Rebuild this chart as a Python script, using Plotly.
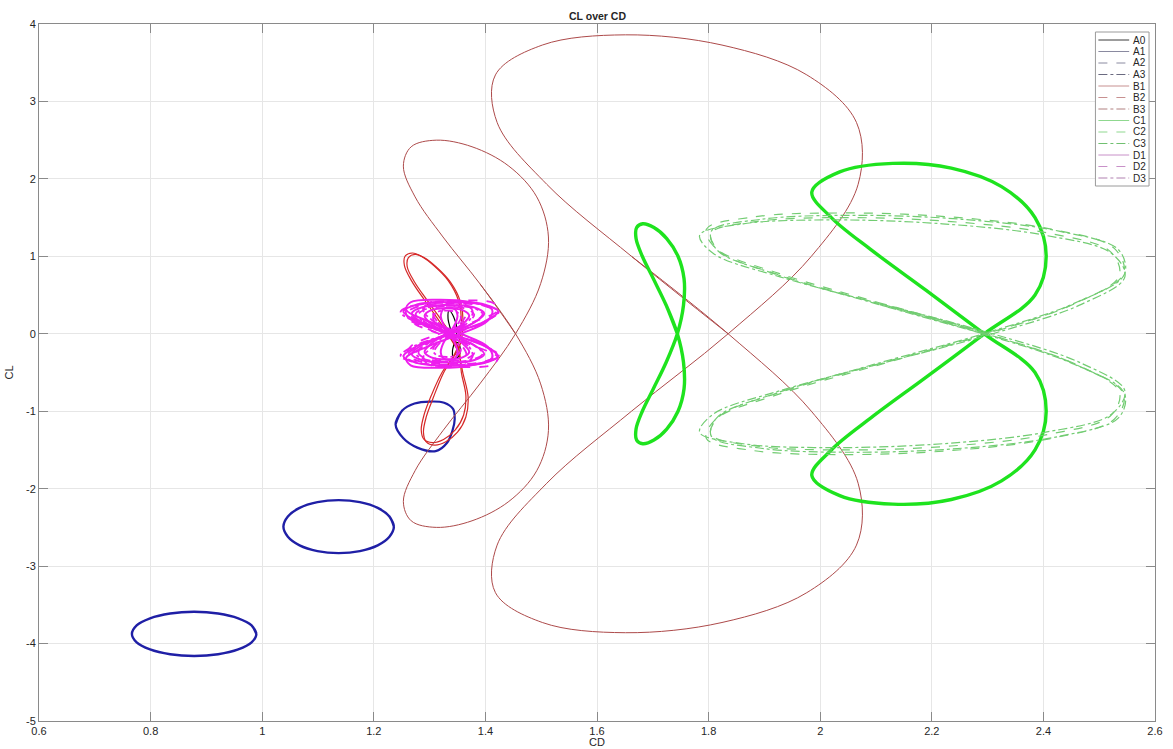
import plotly.graph_objects as go

# ---------------- data: CD (x) / CL (y) traces, each inner list is one closed loop ----------------
A0_CD = [[1.345, 1.338, 1.333, 1.335, 1.343, 1.349, 1.345, 1.341, 1.343, 1.351, 1.355, 1.351]]
A0_CL = [[-0.10, 0.05, 0.20, 0.30, 0.22, 0.06, -0.10, -0.22, -0.32, -0.30, -0.20, -0.12]]

A1_CD = [[0.9895, 0.981, 0.957, 0.921, 0.878, 0.835, 0.799, 0.775, 0.7665, 0.775, 0.799, 0.835, 0.878, 0.921, 0.957, 0.981]]
A1_CL = [[-3.875, -3.766, -3.674, -3.612, -3.59, -3.612, -3.674, -3.766, -3.875, -3.984, -4.076, -4.138, -4.16, -4.138, -4.076, -3.984]]

A2_CD = [[1.236, 1.228, 1.207, 1.175, 1.137, 1.099, 1.067, 1.046, 1.038, 1.046, 1.067, 1.099, 1.137, 1.175, 1.207, 1.228]]
A2_CL = [[-2.49, -2.359, -2.248, -2.174, -2.148, -2.174, -2.248, -2.359, -2.49, -2.621, -2.732, -2.806, -2.832, -2.806, -2.732, -2.621]]

A3_CD = [[1.239, 1.251, 1.273, 1.301, 1.326, 1.342, 1.345, 1.341, 1.331, 1.311, 1.278, 1.253]]
A3_CL = [[-1.17, -0.99, -0.90, -0.875, -0.89, -0.97, -1.10, -1.25, -1.41, -1.515, -1.47, -1.35]]

B1_CD = [
    [1.349, 1.321, 1.292, 1.268, 1.255, 1.256, 1.269, 1.285, 1.308, 1.334, 1.352, 1.357,
     1.349, 1.324, 1.307, 1.294, 1.289, 1.294, 1.309, 1.329, 1.350, 1.365, 1.369, 1.360],
    [1.352, 1.326, 1.297, 1.273, 1.260, 1.262, 1.274, 1.290, 1.312, 1.337, 1.355, 1.360,
     1.352, 1.322, 1.303, 1.290, 1.285, 1.290, 1.305, 1.325, 1.346, 1.361, 1.365, 1.357],
]
B1_CL = [
    [-0.197, 0.124, 0.423, 0.680, 0.877, 1.001, 1.043, 1.001, 0.877, 0.680, 0.423, 0.124,
     -0.197, -0.518, -0.817, -1.074, -1.271, -1.395, -1.437, -1.395, -1.271, -1.074, -0.817, -0.518],
    [-0.19, 0.124, 0.418, 0.669, 0.862, 0.984, 1.025, 0.984, 0.862, 0.669, 0.418, 0.124,
     -0.19, -0.504, -0.798, -1.049, -1.242, -1.364, -1.405, -1.364, -1.242, -1.049, -0.798, -0.504],
]

B2_CD = [[1.454, 1.390, 1.324, 1.274, 1.253, 1.267, 1.312, 1.376, 1.442, 1.492, 1.513, 1.499,
          1.454, 1.390, 1.324, 1.274, 1.253, 1.267, 1.312, 1.376, 1.442, 1.492, 1.513, 1.499]]
B2_CL = [[0, 0.647, 1.25, 1.768, 2.165, 2.415, 2.50, 2.415, 2.165, 1.768, 1.25, 0.647,
          0, -0.647, -1.25, -1.768, -2.165, -2.415, -2.50, -2.415, -2.165, -1.768, -1.25, -0.647]]

B3_CD = [[1.835, 1.662, 1.510, 1.421, 1.418, 1.502, 1.651, 1.824, 1.976, 2.065, 2.068, 1.984,
          1.835, 1.662, 1.510, 1.421, 1.418, 1.502, 1.651, 1.824, 1.976, 2.065, 2.068, 1.984]]
B3_CL = [[0, 0.999, 1.93, 2.729, 3.343, 3.728, 3.86, 3.728, 3.343, 2.729, 1.93, 0.999,
          0, -0.999, -1.93, -2.729, -3.343, -3.728, -3.86, -3.728, -3.343, -2.729, -1.93, -0.999]]

# C1: narrow figure-eight and wide butterfly
C1_CD = [
    [1.744, 1.724, 1.701, 1.681, 1.670, 1.671, 1.682, 1.702, 1.725, 1.745, 1.756, 1.755,
     1.744, 1.724, 1.701, 1.681, 1.670, 1.671, 1.682, 1.702, 1.725, 1.745, 1.756, 1.755],
    [2.294, 2.190, 2.092, 2.020, 1.985, 2.035, 2.130, 2.235, 2.325, 2.385, 2.405, 2.385,
     2.294, 2.190, 2.092, 2.020, 1.985, 2.035, 2.130, 2.235, 2.325, 2.385, 2.405, 2.385],
]
C1_CL = [
    [0, 0.368, 0.71, 1.004, 1.230, 1.372, 1.42, 1.372, 1.230, 1.004, 0.71, 0.368,
     0, -0.368, -0.71, -1.004, -1.230, -1.372, -1.42, -1.372, -1.230, -1.004, -0.71, -0.368],
    [0, 0.56, 1.08, 1.50, 1.83, 2.09, 2.20, 2.14, 1.90, 1.50, 1.00, 0.50,
     0, -0.56, -1.08, -1.50, -1.83, -2.09, -2.20, -2.14, -1.90, -1.50, -1.00, -0.50],
]

C2_CD = [
    [2.300, 2.104, 1.926, 1.813, 1.796, 1.879, 2.040, 2.236, 2.414, 2.527, 2.544, 2.461,
     2.300, 2.104, 1.926, 1.813, 1.796, 1.879, 2.040, 2.236, 2.414, 2.527, 2.544, 2.461],
    [2.297, 2.105, 1.931, 1.820, 1.804, 1.885, 2.043, 2.235, 2.409, 2.520, 2.536, 2.455,
     2.297, 2.105, 1.931, 1.820, 1.804, 1.885, 2.043, 2.235, 2.409, 2.520, 2.536, 2.455],
]
C2_CL = [
    [0, 0.404, 0.78, 1.103, 1.351, 1.507, 1.56, 1.507, 1.351, 1.103, 0.78, 0.404,
     0, -0.404, -0.78, -1.103, -1.351, -1.507, -1.56, -1.507, -1.351, -1.103, -0.78, -0.404],
    [0, 0.388, 0.75, 1.061, 1.299, 1.449, 1.50, 1.449, 1.299, 1.061, 0.75, 0.388,
     0, -0.388, -0.75, -1.061, -1.299, -1.449, -1.50, -1.449, -1.299, -1.061, -0.75, -0.388],
]

C3_CD = [
    [2.292, 2.096, 1.922, 1.815, 1.805, 1.894, 2.058, 2.254, 2.428, 2.535, 2.545, 2.456,
     2.292, 2.096, 1.922, 1.815, 1.805, 1.894, 2.058, 2.254, 2.428, 2.535, 2.545, 2.456],
    [2.309, 2.111, 1.928, 1.808, 1.784, 1.862, 2.021, 2.219, 2.402, 2.522, 2.546, 2.468,
     2.309, 2.111, 1.928, 1.808, 1.784, 1.862, 2.021, 2.219, 2.402, 2.522, 2.546, 2.468],
]
C3_CL = [
    [0, 0.396, 0.765, 1.082, 1.325, 1.478, 1.53, 1.478, 1.325, 1.082, 0.765, 0.396,
     0, -0.396, -0.765, -1.082, -1.325, -1.478, -1.53, -1.478, -1.325, -1.082, -0.765, -0.396],
    [0, 0.380, 0.735, 1.039, 1.273, 1.420, 1.47, 1.420, 1.273, 1.039, 0.735, 0.380,
     0, -0.380, -0.735, -1.039, -1.273, -1.420, -1.47, -1.420, -1.273, -1.039, -0.735, -0.380],
]

D1_CD = [
    [1.338, 1.278, 1.253, 1.278, 1.338, 1.398, 1.423, 1.398, 1.338, 1.278, 1.253, 1.278, 1.338, 1.398, 1.423, 1.398],
    [1.333, 1.287, 1.268, 1.287, 1.333, 1.379, 1.398, 1.379, 1.333, 1.287, 1.268, 1.287, 1.333, 1.379, 1.398, 1.379],
    [1.331, 1.303, 1.291, 1.303, 1.331, 1.359, 1.371, 1.359, 1.331, 1.303, 1.291, 1.303, 1.331, 1.359, 1.371, 1.359],
    [1.356, 1.295, 1.258, 1.266, 1.314, 1.375, 1.412, 1.404, 1.356, 1.295, 1.258, 1.266, 1.314, 1.375, 1.412, 1.404],
    [1.335, 1.324, 1.320, 1.324, 1.335, 1.346, 1.350, 1.346, 1.335, 1.324, 1.320, 1.324, 1.335, 1.346, 1.350, 1.346],
]
D1_CL = [
    [0, 0.157, 0.290, 0.379, 0.41, 0.379, 0.290, 0.157, 0, -0.157, -0.290, -0.379, -0.41, -0.379, -0.290, -0.157],
    [0, 0.142, 0.262, 0.342, 0.37, 0.342, 0.262, 0.142, 0, -0.142, -0.262, -0.342, -0.37, -0.342, -0.262, -0.142],
    [0, 0.126, 0.233, 0.305, 0.33, 0.305, 0.233, 0.126, 0, -0.126, -0.233, -0.305, -0.33, -0.305, -0.233, -0.126],
    [0, 0.168, 0.311, 0.407, 0.44, 0.407, 0.311, 0.168, 0, -0.168, -0.311, -0.407, -0.44, -0.407, -0.311, -0.168],
    [0, 0.130, 0.240, 0.314, 0.34, 0.314, 0.240, 0.130, 0, -0.130, -0.240, -0.314, -0.34, -0.314, -0.240, -0.130],
]
D2_CD = [
    [1.341, 1.284, 1.261, 1.284, 1.341, 1.398, 1.421, 1.398, 1.341, 1.284, 1.261, 1.284, 1.341, 1.398, 1.421, 1.398],
    [1.330, 1.295, 1.280, 1.295, 1.330, 1.365, 1.380, 1.365, 1.330, 1.295, 1.280, 1.295, 1.330, 1.365, 1.380, 1.365],
    [1.318, 1.266, 1.258, 1.298, 1.362, 1.414, 1.422, 1.383, 1.318, 1.266, 1.258, 1.298, 1.362, 1.414, 1.422, 1.383],
    [1.336, 1.315, 1.306, 1.315, 1.336, 1.357, 1.366, 1.357, 1.336, 1.315, 1.306, 1.315, 1.336, 1.357, 1.366, 1.357],
]
D2_CL = [
    [0, 0.149, 0.276, 0.360, 0.39, 0.360, 0.276, 0.149, 0, -0.149, -0.276, -0.360, -0.39, -0.360, -0.276, -0.149],
    [0, 0.134, 0.247, 0.323, 0.35, 0.323, 0.247, 0.134, 0, -0.134, -0.247, -0.323, -0.35, -0.323, -0.247, -0.134],
    [0, 0.165, 0.304, 0.397, 0.43, 0.397, 0.304, 0.165, 0, -0.165, -0.304, -0.397, -0.43, -0.397, -0.304, -0.165],
    [0, 0.146, 0.269, 0.351, 0.38, 0.351, 0.269, 0.146, 0, -0.146, -0.269, -0.351, -0.38, -0.351, -0.269, -0.146],
]
D3_CD = [
    [1.336, 1.274, 1.248, 1.274, 1.336, 1.398, 1.424, 1.398, 1.336, 1.274, 1.248, 1.274, 1.336, 1.398, 1.424, 1.398],
    [1.335, 1.293, 1.275, 1.293, 1.335, 1.377, 1.395, 1.377, 1.335, 1.293, 1.275, 1.293, 1.335, 1.377, 1.395, 1.377],
    [1.331, 1.313, 1.306, 1.313, 1.331, 1.349, 1.356, 1.349, 1.331, 1.313, 1.306, 1.313, 1.331, 1.349, 1.356, 1.349],
    [1.341, 1.307, 1.289, 1.296, 1.325, 1.359, 1.377, 1.370, 1.341, 1.307, 1.289, 1.296, 1.325, 1.359, 1.377, 1.370],
]
D3_CL = [
    [0, 0.153, 0.283, 0.370, 0.40, 0.370, 0.283, 0.153, 0, -0.153, -0.283, -0.370, -0.40, -0.370, -0.283, -0.153],
    [0, 0.138, 0.255, 0.333, 0.36, 0.333, 0.255, 0.138, 0, -0.138, -0.255, -0.333, -0.36, -0.333, -0.255, -0.138],
    [0, 0.115, 0.212, 0.277, 0.30, 0.277, 0.212, 0.115, 0, -0.115, -0.212, -0.277, -0.30, -0.277, -0.212, -0.115],
    [0, 0.161, 0.297, 0.388, 0.42, 0.388, 0.297, 0.161, 0, -0.161, -0.297, -0.388, -0.42, -0.388, -0.297, -0.161],
]

SERIES_NAMES = ["A0", "A1", "A2", "A3", "B1", "B2", "B3", "C1", "C2", "C3", "D1", "D2", "D3"]
X_TICKS = [0.6, 0.8, 1.0, 1.2, 1.4, 1.6, 1.8, 2.0, 2.2, 2.4, 2.6]
X_TICK_TEXT = ["0.6", "0.8", "1", "1.2", "1.4", "1.6", "1.8", "2", "2.2", "2.4", "2.6"]
Y_TICKS = [-5, -4, -3, -2, -1, 0, 1, 2, 3, 4]
Y_TICK_TEXT = ["-5", "-4", "-3", "-2", "-1", "0", "1", "2", "3", "4"]

SERIES = {
    "A0": (A0_CD, A0_CL), "A1": (A1_CD, A1_CL), "A2": (A2_CD, A2_CL), "A3": (A3_CD, A3_CL),
    "B1": (B1_CD, B1_CL), "B2": (B2_CD, B2_CL), "B3": (B3_CD, B3_CL),
    "C1": (C1_CD, C1_CL), "C2": (C2_CD, C2_CL), "C3": (C3_CD, C3_CL),
    "D1": (D1_CD, D1_CL), "D2": (D2_CD, D2_CL), "D3": (D3_CD, D3_CL),
}

# ---------------- styling ----------------
BLUE = "#1f1fa6"
RED = "#d62828"
BROWN = "#ad4a4a"
LIME = "#1ee31e"
LGREEN = "#72cc72"
MAGENTA = "#ee1eee"

STYLE = {
    "A0": dict(color="#000000", width=1.2, dash="solid"),
    "A1": dict(color=BLUE, width=2.4, dash="solid"),
    "A2": dict(color=BLUE, width=2.4, dash="solid"),
    "A3": dict(color=BLUE, width=2.2, dash="solid"),
    "B1": dict(color=RED, width=1.2, dash="solid"),
    "B2": dict(color=BROWN, width=1.0, dash="solid"),
    "B3": dict(color=BROWN, width=1.0, dash="solid"),
    "C1": dict(color=LIME, width=3.4, dash="solid"),
    "C2": dict(color=LGREEN, width=1.2, dash="dash"),
    "C3": dict(color=LGREEN, width=1.2, dash="dashdot"),
    "D1": dict(color=MAGENTA, width=2.0, dash="solid"),
    "D2": dict(color=MAGENTA, width=1.8, dash="dash"),
    "D3": dict(color=MAGENTA, width=1.8, dash="dashdot"),
}
LEGEND_STYLE = {
    "A0": ("#3a3a3a", "solid"), "A1": ("#8a8aa0", "solid"), "A2": ("#8a8aa0", "dash"),
    "A3": ("#6a6a80", "dashdot"), "B1": ("#c79090", "solid"), "B2": ("#c79090", "dash"),
    "B3": ("#b08080", "dashdot"), "C1": ("#8fd88f", "solid"), "C2": ("#8fd88f", "dash"),
    "C3": ("#70c070", "dashdot"), "D1": ("#c890c8", "solid"), "D2": ("#c890c8", "dash"),
    "D3": ("#b080b0", "dashdot"),
}


def closed(xs, ys):
    """Repeat the first two samples so a spline closes the loop smoothly."""
    return list(xs) + list(xs[:2]), list(ys) + list(ys[:2])


def loops(xs_list, ys_list):
    X, Y = [], []
    for lx, ly in zip(xs_list, ys_list):
        cx, cy = closed(lx, ly)
        X += cx + [None]
        Y += cy + [None]
    return X, Y


fig = go.Figure()
for name in SERIES_NAMES:
    x, y = loops(*SERIES[name])
    st = STYLE[name]
    fig.add_trace(go.Scatter(
        x=x, y=y, mode="lines", name=name, showlegend=False, hoverinfo="skip",
        connectgaps=False,
        line=dict(color=st["color"], width=st["width"], dash=st["dash"],
                  shape="spline", smoothing=1.0),
    ))

FONT = "Liberation Sans, Arial, Helvetica, sans-serif"
AX_COLOR = "#8a8a8a"
GRID = "#e6e6e6"

common_axis = dict(
    showgrid=True, gridcolor=GRID, gridwidth=1, zeroline=False,
    showline=True, linecolor=AX_COLOR, linewidth=1, mirror="ticks",
    ticks="inside", ticklen=9, tickcolor=AX_COLOR, tickwidth=1,
    tickfont=dict(family=FONT, size=11, color="#262626"),
)

fig.update_layout(
    width=1173, height=749,
    margin=dict(l=39, r=10, t=24, b=28, pad=0),
    paper_bgcolor="white", plot_bgcolor="white",
    font=dict(family=FONT, color="#262626"),
    showlegend=False,
    xaxis=dict(range=[0.6, 2.6], tickvals=X_TICKS, ticktext=X_TICK_TEXT, **common_axis),
    yaxis=dict(range=[-5, 4], tickvals=Y_TICKS, ticktext=Y_TICK_TEXT, **common_axis),
)

# title and axis labels
fig.add_annotation(text="<b>CL over CD</b>", xref="paper", yref="paper", x=0.5, y=1,
                   xanchor="center", yanchor="bottom", yshift=0, showarrow=False,
                   font=dict(family=FONT, size=10.5, color="#262626"))
fig.add_annotation(text="CD", xref="paper", yref="paper", x=0.5, y=0,
                   xanchor="center", yanchor="middle", yshift=-21, showarrow=False,
                   font=dict(family=FONT, size=11, color="#262626"))
fig.add_annotation(text="CL", xref="paper", yref="paper", x=0, y=0.5,
                   xanchor="center", yanchor="middle", xshift=-31, textangle=-90,
                   showarrow=False, font=dict(family=FONT, size=11, color="#262626"))

# legend box drawn in paper coordinates (compact MATLAB-style spacing)
PW, PH = 1124.0, 697.0
def px_x(p):
    return (p - 39.0) / PW
def px_y(p):
    return (721.0 - p) / PH

fig.add_shape(type="rect", xref="paper", yref="paper",
              x0=px_x(1103), x1=px_x(1157), y0=px_y(186), y1=px_y(32),
              line=dict(color="#9a9a9a", width=1), fillcolor="white", layer="above")
for i, name in enumerate(SERIES_NAMES):
    yc = px_y(40 + 11.5 * i)
    col, dash = LEGEND_STYLE[name]
    fig.add_shape(type="line", xref="paper", yref="paper",
                  x0=px_x(1106), x1=px_x(1137), y0=yc, y1=yc,
                  line=dict(color=col, width=1, dash=dash), layer="above")
    fig.add_annotation(text=name, xref="paper", yref="paper", x=px_x(1139), y=yc,
                       xanchor="left", yanchor="middle", showarrow=False,
                       font=dict(family=FONT, size=10, color="#262626"))

fig.write_html("out.html")
